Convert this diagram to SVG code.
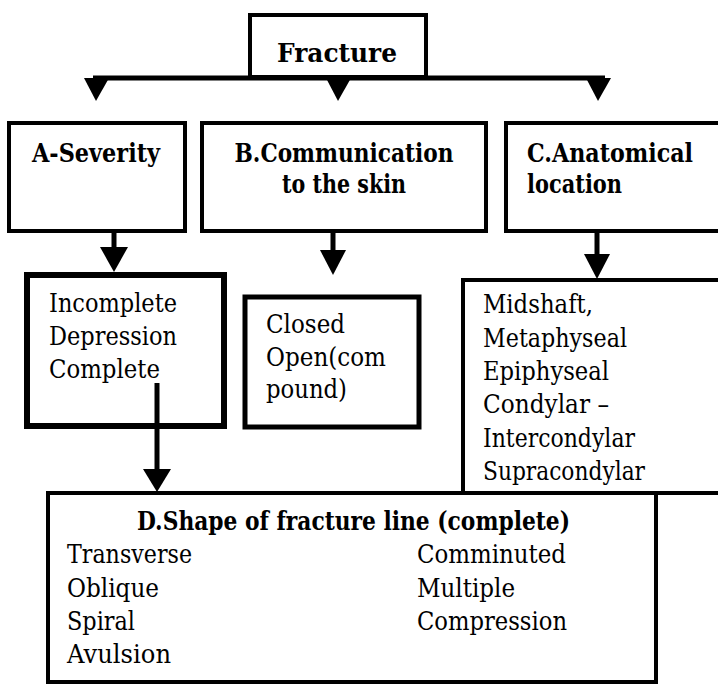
<svg xmlns="http://www.w3.org/2000/svg" width="718" height="687" viewBox="0 0 718 687">
<defs>
<style>
.b{fill:none;stroke:#000;}
text{font-family:'DejaVu Serif','Liberation Serif','Times New Roman',serif;font-size:26px;fill:#000;}
.h{font-weight:bold;}
.ln{stroke:#000;stroke-width:5;fill:none;}
.ah{fill:#000;}
</style>
</defs>
<rect width="718" height="687" fill="#fff"/>
<g id="fracture">
<rect class="b" x="250" y="15" width="176" height="62" stroke-width="4"/>
<text class="h" x="337" y="62" text-anchor="middle" textLength="120" lengthAdjust="spacingAndGlyphs">Fracture</text>
</g>
<g id="severity">
<rect class="b" x="9" y="123" width="176" height="108" stroke-width="4"/>
<text class="h" x="32" y="162" textLength="128" lengthAdjust="spacingAndGlyphs">A-Severity</text>
</g>
<g id="communication">
<rect class="b" x="202" y="123" width="284" height="108" stroke-width="4"/>
<text class="h" x="344" y="162" text-anchor="middle" textLength="219" lengthAdjust="spacingAndGlyphs">B.Communication</text>
<text class="h" x="344" y="193" text-anchor="middle" textLength="124" lengthAdjust="spacingAndGlyphs">to the skin</text>
</g>
<g id="anatomical">
<rect class="b" x="506" y="123" width="220" height="108" stroke-width="4"/>
<text class="h" x="527" y="162" textLength="166" lengthAdjust="spacingAndGlyphs">C.Anatomical</text>
<text class="h" x="527" y="193" textLength="95" lengthAdjust="spacingAndGlyphs">location</text>
</g>
<g id="severity-types">
<rect class="b" x="27" y="275" width="197" height="151" stroke-width="6"/>
<text x="49" y="312" textLength="128" lengthAdjust="spacingAndGlyphs">Incomplete</text>
<text x="49" y="345" textLength="128" lengthAdjust="spacingAndGlyphs">Depression</text>
<text x="49" y="378" textLength="111" lengthAdjust="spacingAndGlyphs">Complete</text>
</g>
<g id="skin-types">
<rect class="b" x="245" y="297" width="174" height="130" stroke-width="5"/>
<text x="266" y="333" textLength="79" lengthAdjust="spacingAndGlyphs">Closed</text>
<text x="266" y="366" textLength="120" lengthAdjust="spacingAndGlyphs">Open(com</text>
<text x="266" y="398" textLength="81" lengthAdjust="spacingAndGlyphs">pound)</text>
</g>
<g id="location-types">
<rect class="b" x="463" y="280" width="270" height="213" stroke-width="4"/>
<text x="483" y="313" textLength="110" lengthAdjust="spacingAndGlyphs">Midshaft,</text>
<text x="483" y="347" textLength="144" lengthAdjust="spacingAndGlyphs">Metaphyseal</text>
<text x="483" y="380" textLength="126" lengthAdjust="spacingAndGlyphs">Epiphyseal</text>
<text x="483" y="413" textLength="126" lengthAdjust="spacingAndGlyphs">Condylar –</text>
<text x="483" y="447" textLength="152" lengthAdjust="spacingAndGlyphs">Intercondylar</text>
<text x="483" y="480" textLength="162" lengthAdjust="spacingAndGlyphs">Supracondylar</text>
</g>
<g id="shape">
<rect class="b" x="48" y="493" width="608" height="189" stroke-width="4"/>
<text class="h" x="137" y="530" textLength="433" lengthAdjust="spacingAndGlyphs">D.Shape of fracture line (complete)</text>
<text x="67" y="563" textLength="125" lengthAdjust="spacingAndGlyphs">Transverse</text>
<text x="67" y="597" textLength="92" lengthAdjust="spacingAndGlyphs">Oblique</text>
<text x="67" y="630" textLength="68" lengthAdjust="spacingAndGlyphs">Spiral</text>
<text x="67" y="663" textLength="104" lengthAdjust="spacingAndGlyphs">Avulsion</text>
<text x="417" y="563" textLength="149" lengthAdjust="spacingAndGlyphs">Comminuted</text>
<text x="417" y="597" textLength="98" lengthAdjust="spacingAndGlyphs">Multiple</text>
<text x="417" y="630" textLength="150" lengthAdjust="spacingAndGlyphs">Compression</text>
</g>
<g id="connectors">
<path class="ln" d="M93 78 H605"/>
<polygon class="ah" points="84,78 109,78 96,101"/>
<polygon class="ah" points="326,78 351,78 338,101"/>
<polygon class="ah" points="586,78 611,78 598,101"/>
<path class="ln" d="M114 231 V249"/>
<polygon class="ah" points="100,247 128,247 114,272"/>
<path class="ln" d="M333 231 V252"/>
<polygon class="ah" points="320,250 346,250 333,275"/>
<path class="ln" d="M597 231 V256"/>
<polygon class="ah" points="584,254 610,254 597,279"/>
<path class="ln" d="M157 383 V472"/>
<polygon class="ah" points="143,469 171,469 157,492"/>
</g>
</svg>
